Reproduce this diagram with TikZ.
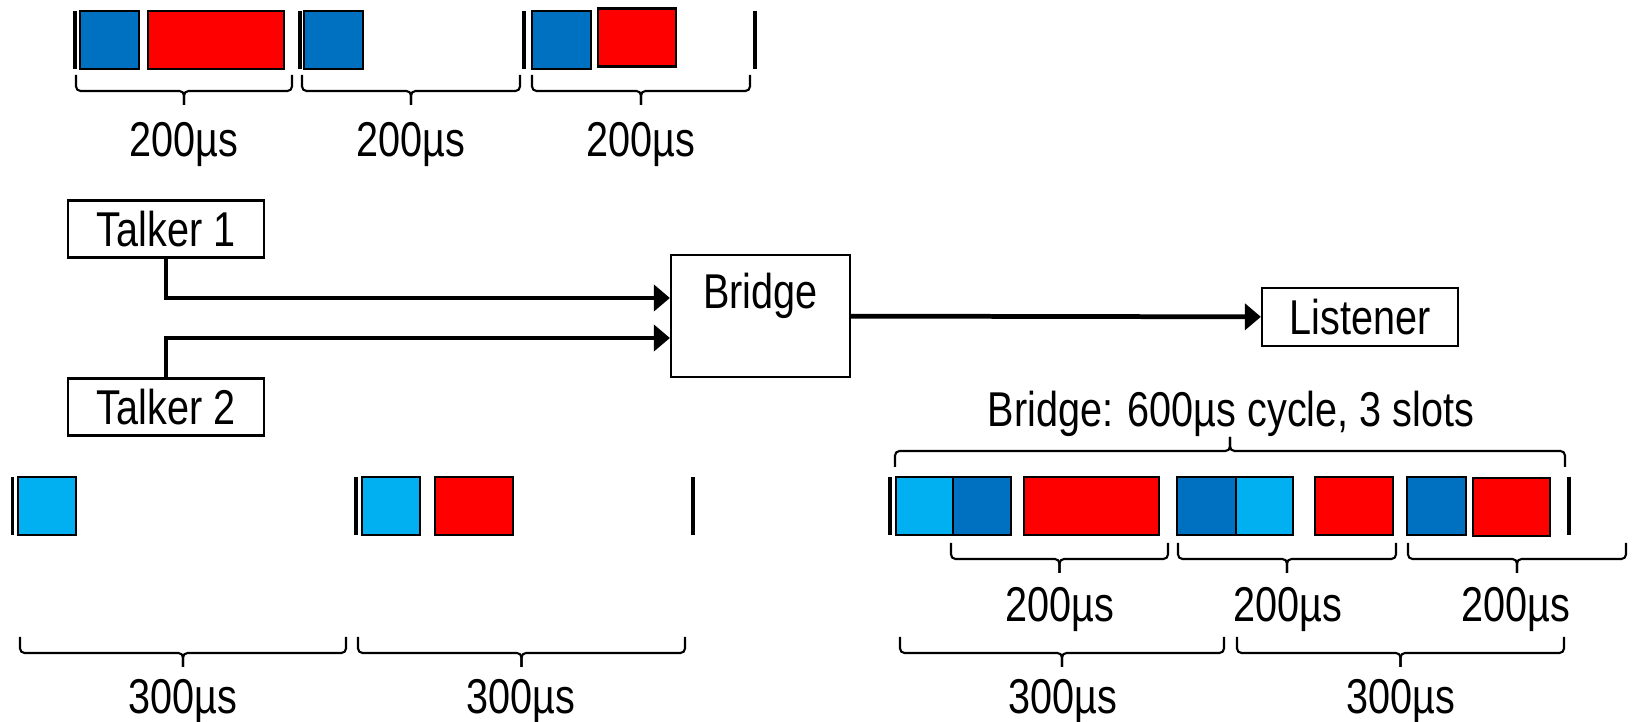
\documentclass[tikz,border=0pt]{standalone}
\usepackage{fontspec}
\setmainfont{Liberation Sans}[FakeStretch=0.81]
\usetikzlibrary{arrows.meta, positioning}
\definecolor{slotBlue}{RGB}{0,112,192}
\definecolor{slotCyan}{RGB}{0,176,240}
\definecolor{slotRed}{RGB}{255,0,0}

\begin{document}
\begin{tikzpicture}[x=0.01cm, y=-0.01cm,
  font=\fontsize{13.9pt}{16pt}\selectfont,
  B/.style={draw=black,line width=0.6pt,inner sep=0pt,
            minimum width=1.96cm,minimum height=0.57cm},
  arr/.style={-{Triangle[length=1.6mm,width=2.6mm]},line width=1.35pt},
  slot/.style={draw=black,line width=0.6pt},
  bar/.style={line width=1pt},
  brc/.style={line width=0.6pt,rounded corners=0.45mm},
  lbl/.style={anchor=base,inner sep=0pt}]

\useasboundingbox (0,0) rectangle (1632,722);

% network
\node[B] (T1) at (166,229) {Talker 1};
\node[B] (T2) at (166,407) {Talker 2};
\node[B,minimum width=1.79cm,minimum height=1.22cm] (Br) at (760.5,316) {};
\node[inner sep=0pt,below=1.8mm of Br.north] (BrName) {Bridge};
\node[B,minimum height=0.58cm] (L) at (1360,317) {Listener};

\draw[arr] (T1.south) |- ([yshift=1.8mm]Br.west);
\draw[arr] (T2.north) |- ([yshift=-2.2mm]Br.west);
\draw[arr] (Br) -- (L);

% cycle borders
\foreach \x in {75,300,524,755} \draw[bar] (\x,11) -- (\x,69);
\foreach \x in {12.5,356,693,890,1569} \draw[bar] (\x,477) -- (\x,535);

% frames in their slots
\foreach \a/\b/\c in {80/139/slotBlue,148/284/slotRed,304/363/slotBlue,532/591/slotBlue}
  \draw[slot,fill=\c] (\a,11) rectangle (\b,69);
\draw[slot,fill=slotRed] (598,8.5) rectangle (676,66.5);

\foreach \a/\b/\c in {18/76/slotCyan,362/420/slotCyan,435/513/slotRed,
                      896/953/slotCyan,953/1011/slotBlue,1024/1159/slotRed,
                      1177/1236/slotBlue,1236/1293/slotCyan,1315/1393/slotRed,
                      1407/1466/slotBlue}
  \draw[slot,fill=\c] (\a,477) rectangle (\b,535);
\draw[slot,fill=slotRed] (1473,478) rectangle (1550,536);

% braces: left end / right end / y of the ends / direction
\foreach \a/\b/\y/\d in {76/292/75/1,302/520/75/1,532/750/75/1,
                         20/346/637/1,358/685/637/1,
                         895/1565/467/-1,
                         951/1168/543/1,1178/1396/543/1,1408/1626/543/1,
                         900/1224/637/1,1237/1564/637/1} {
  \pgfmathsetmacro\m{(\a+\b)/2}
  \draw[brc] (\a,\y) -- (\a,\y+16*\d) -- (\m,\y+16*\d) -- (\m,\y+30*\d);
  \draw[brc] (\b,\y) -- (\b,\y+16*\d) -- (\m,\y+16*\d) -- (\m,\y+30*\d);
}

% durations
\foreach \x [count=\i] in {184,411,641} \node[lbl] (topT\i) at (\x,157) {200µs};
\foreach \x [count=\i] in {183,521} \node[lbl] (botT\i) at (\x,714) {300µs};
\foreach \x [count=\i] in {1060,1288,1516} \node[lbl] (brS\i) at (\x,622) {200µs};
\foreach \x [count=\i] in {1063,1401} \node[lbl] (brT\i) at (\x,714) {300µs};
\node[lbl] (brCycle) at (1231,427) {Bridge: 600µs cycle, 3 slots};
\end{tikzpicture}
\end{document}
